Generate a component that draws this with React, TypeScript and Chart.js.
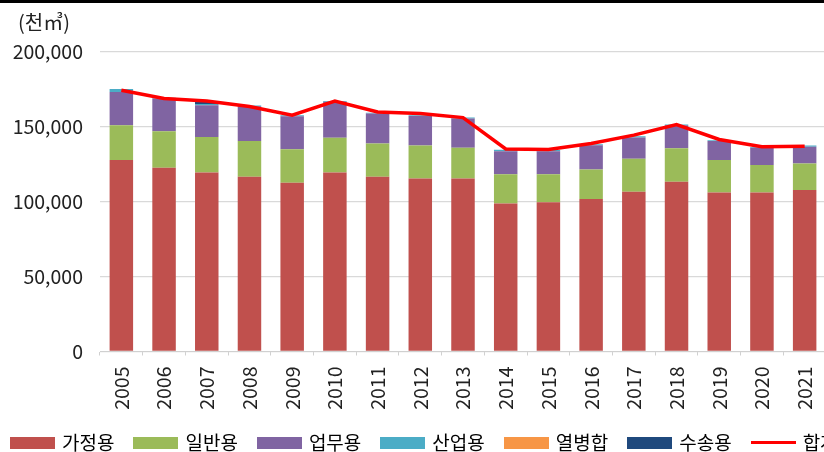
import React, { useEffect, useRef } from "react";
import { Chart, registerables } from "chart.js";

Chart.register(...registerables);

const years = ["2005", "2006", "2007", "2008", "2009", "2010", "2011", "2012", "2013", "2014", "2015", "2016", "2017", "2018", "2019", "2020", "2021"];
const residential = [127800, 122700, 119600, 116700, 112700, 119600, 116700, 115600, 115600, 98900, 99600, 101800, 106700, 113300, 106200, 106200, 107800];
const general = [23300, 24400, 23700, 23800, 22400, 23100, 22200, 22000, 20400, 19400, 18700, 19800, 22000, 22500, 21600, 18300, 17800];
const business = [22200, 21800, 21200, 23300, 22000, 24000, 20000, 19700, 19600, 15500, 15500, 16200, 14200, 15300, 12700, 11500, 11100];
const industrial = [2000, 500, 800, 500, 600, 500, 600, 500, 700, 900, 700, 600, 900, 500, 600, 600, 800];
const cogeneration = [0, 0, 0, 0, 0, 0, 0, 0, 0, 0, 0, 0, 0, 0, 0, 0, 0];
const transport = [0, 0, 2000, 0, 0, 0, 0, 0, 0, 0, 0, 0, 0, 0, 0, 0, 0];
const total = [174500, 168900, 167300, 163600, 157800, 167300, 160000, 158900, 156200, 135300, 134900, 138900, 144500, 151600, 141600, 136700, 137100];
const yTicks = [0, 50000, 100000, 150000, 200000];

const FONT = "'Noto Sans CJK KR', 'Noto Sans', sans-serif";

function swatch(color: string, w: number, h: number) {
  const c = document.createElement("canvas");
  c.width = w;
  c.height = h;
  const ctx = c.getContext("2d")!;
  ctx.fillStyle = color;
  ctx.fillRect(0, 0, w, h);
  return c;
}

export default function App() {
  const ref = useRef<HTMLCanvasElement | null>(null);

  useEffect(() => {
    if (!ref.current) return;
    const bar = (label: string, data: number[], color: string) => ({
      type: "bar" as const,
      label,
      data,
      backgroundColor: color,
      borderWidth: 0,
      stack: "s",
      barPercentage: 0.55,
      categoryPercentage: 1,
      order: 1,
    });
    const chart = new Chart(ref.current, {
      type: "bar",
      data: {
        labels: years,
        datasets: [
          bar("가정용", residential, "#C0504D"),
          bar("일반용", general, "#9BBB59"),
          bar("업무용", business, "#8064A2"),
          bar("산업용", industrial, "#4BACC6"),
          bar("열병합", cogeneration, "#F79646"),
          bar("수송용", transport, "#1F497D"),
          {
            type: "line" as const,
            label: "합계",
            data: total,
            borderColor: "#FF0000",
            backgroundColor: "#FF0000",
            borderWidth: 3.5,
            pointRadius: 0,
            tension: 0,
            stack: "line",
            order: 0,
          } as any,
        ],
      },
      options: {
        responsive: false,
        animation: false,
        layout: { padding: { top: 52, left: 0, right: 0, bottom: 0 } },
        plugins: {
          tooltip: { enabled: false },
          legend: {
            position: "bottom",
            align: "start",
            labels: {
              usePointStyle: true,
              pointStyleWidth: 40,
              boxHeight: 12,
              padding: 21.5,
              color: "#000",
              font: { size: 19, family: FONT },
              sort: (a: any, b: any) => a.datasetIndex - b.datasetIndex,
              generateLabels: (c: any) =>
                (Chart.defaults.plugins.legend.labels.generateLabels as any)(c).map((it: any) => ({
                  ...it,
                  pointStyle: it.datasetIndex === 6 ? swatch("#FF0000", 45, 3) : swatch(it.fillStyle, 45, 12),
                  lineWidth: 0,
                })),
            },
          },
        },
        scales: {
          x: {
            stacked: true,
            grid: { display: true, drawOnChartArea: false, drawTicks: true, tickLength: 4, color: "#d0d0d0", offset: true },
            border: { display: true, color: "#d0d0d0" },
            ticks: { font: { size: 19.5, family: FONT }, color: "#222", minRotation: 90, maxRotation: 90, autoSkip: false, padding: 11 },
            afterFit: (s: any) => {
              s.height = 60;
            },
          },
          y: {
            stacked: true,
            min: 0,
            max: 200000,
            afterBuildTicks: (s: any) => {
              s.ticks = yTicks.map((v) => ({ value: v }));
            },
            grid: { color: "#d9d9d9", lineWidth: 1.3, drawTicks: false },
            border: { display: false },
            ticks: {
              font: { size: 19.5, family: FONT },
              color: "#222",
              padding: 17,
              callback: (v: any) => Number(v).toLocaleString("en-US"),
            },
            afterFit: (s: any) => {
              s.width = 109;
            },
          },
          y2: {
            position: "right",
            display: true,
            grid: { display: false },
            border: { display: false },
            ticks: { display: false },
            afterFit: (s: any) => {
              s.width = 65;
            },
          },
        },
      },
    });
    return () => chart.destroy();
  }, []);

  return (
    <div style={{ position: "fixed", left: 0, top: 0, width: 824, height: 452, overflow: "hidden", background: "#fff" }}>
      <canvas ref={ref} width={900} height={462} style={{ position: "absolute", left: -9, top: 0 }} />
      <div style={{ position: "absolute", left: 0, top: 0, width: 824, height: 3, background: "#000" }} />
      <div style={{ position: "absolute", left: 18, top: 9, fontSize: 20, fontFamily: FONT, color: "#222", lineHeight: "26px" }}>(천㎥)</div>
    </div>
  );
}
